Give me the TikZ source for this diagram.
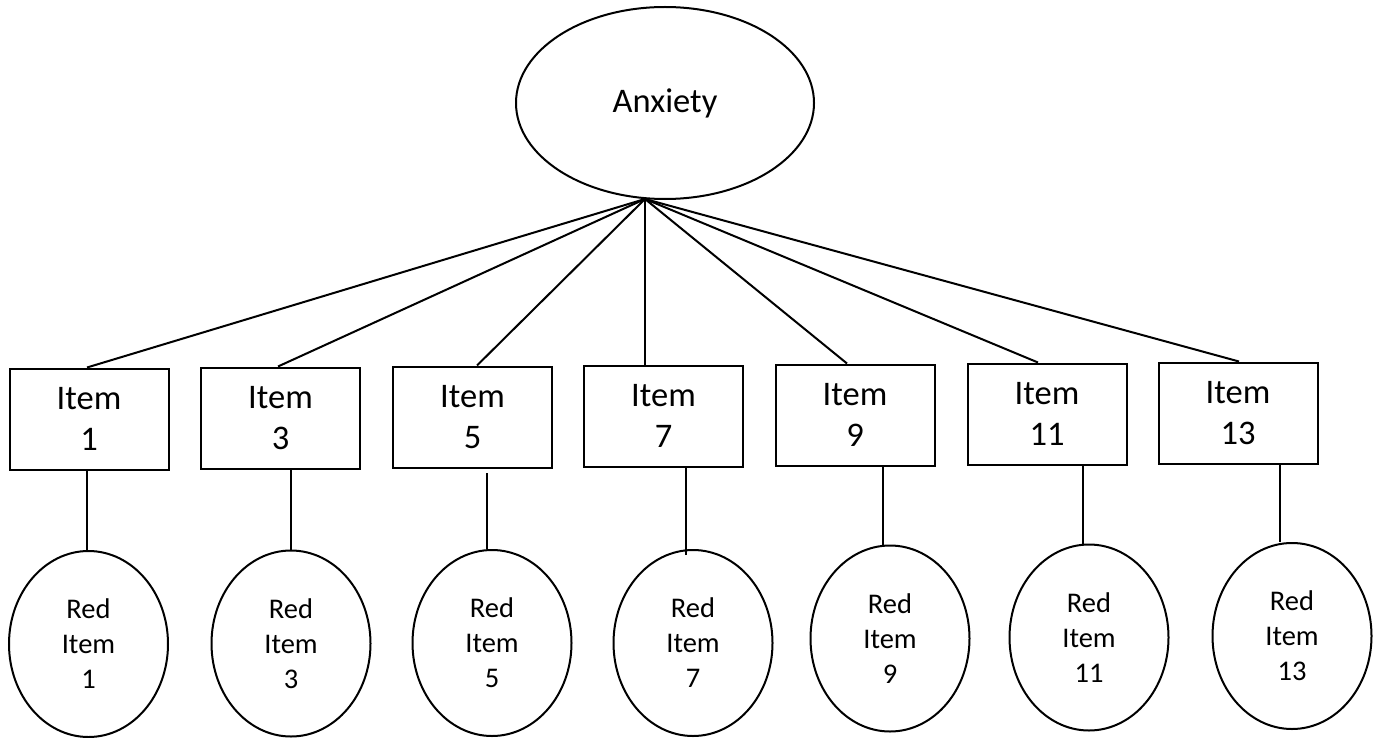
\documentclass[tikz,border=0pt]{standalone}
\usepackage{fontspec}
\setmainfont{Carlito}
\usetikzlibrary{shapes.geometric}
\begin{document}
\begin{tikzpicture}[x=1pt,y=-1pt,line width=2pt,
  latent/.style={draw,ellipse,inner sep=0pt,minimum width=298pt,minimum height=192pt,
    font=\fontsize{34.5}{40}\selectfont},
  itembox/.style={draw,rectangle,inner sep=0pt,minimum width=159pt,minimum height=101pt,
    align=center,font=\fontsize{34.5}{41}\selectfont},
  reditem/.style={draw,ellipse,inner sep=0pt,minimum width=159pt,minimum height=186pt,
    align=center,font=\fontsize{28.5}{35}\selectfont},
  link/.style={draw,line width=2pt}]
\useasboundingbox (0,0) rectangle (1380,738);
\node[latent] (A) at (665,103) {Anxiety};
\coordinate (apex) at (645,199);
\node[itembox] (i1) at (89,419) {Item\\1};
\node[itembox] (i3) at (280.5,418) {Item\\3};
\node[itembox] (i5) at (472.5,417) {Item\\5};
\node[itembox] (i7) at (663.5,416) {Item\\7};
\node[itembox] (i9) at (855,415) {Item\\9};
\node[itembox] (i11) at (1047,414) {Item\\11};
\node[itembox] (i13) at (1238,413) {Item\\13};
\node[reditem] (r1) at (88.5,644) {Red\\Item\\1};
\node[reditem] (r3) at (291,643.5) {Red\\Item\\3};
\node[reditem] (r5) at (492,643) {Red\\Item\\5};
\node[reditem] (r7) at (693,643) {Red\\Item\\7};
\node[reditem] (r9) at (890,638.5) {Red\\Item\\9};
\node[reditem] (r11) at (1089,637.5) {Red\\Item\\11};
\node[reditem] (r13) at (1292,636) {Red\\Item\\13};
% loadings
\path[link] (apex) -- ([xshift=-2pt]i1.north);
\path[link] (apex) -- ([xshift=-2.5pt]i3.north);
\path[link] (apex) -- ([xshift=4.5pt]i5.north);
\path[link] (apex) -- ([xshift=-18.5pt]i7.north);
\path[link] (apex) -- ([xshift=-8pt]i9.north);
\path[link] (apex) -- ([xshift=-9pt]i11.north);
\path[link] (apex) -- ([xshift=1pt]i13.north);
% residual links
\path[link] ([xshift=-1.5pt]r1.north) -- ([xshift=-1.5pt]r1.north |- i1.south);
\path[link] (r3.north) -- (r3.north |- i3.south);
\path[link] ([xshift=-5pt]r5.north) -- ([xshift=-5pt,yshift=-4pt]r5.north |- i5.south);
\path[link] ([xshift=-7pt,yshift=-6pt]r7.north) -- ([xshift=-7pt]r7.north |- i7.south);
\path[link] ([xshift=-7pt]r9.north) -- ([xshift=-7pt]r9.north |- i9.south);
\path[link] ([xshift=-6pt]r11.north) -- ([xshift=-6pt]r11.north |- i11.south);
\path[link] ([xshift=-12pt]r13.north) -- ([xshift=-12pt]r13.north |- i13.south);
\end{tikzpicture}
\end{document}
